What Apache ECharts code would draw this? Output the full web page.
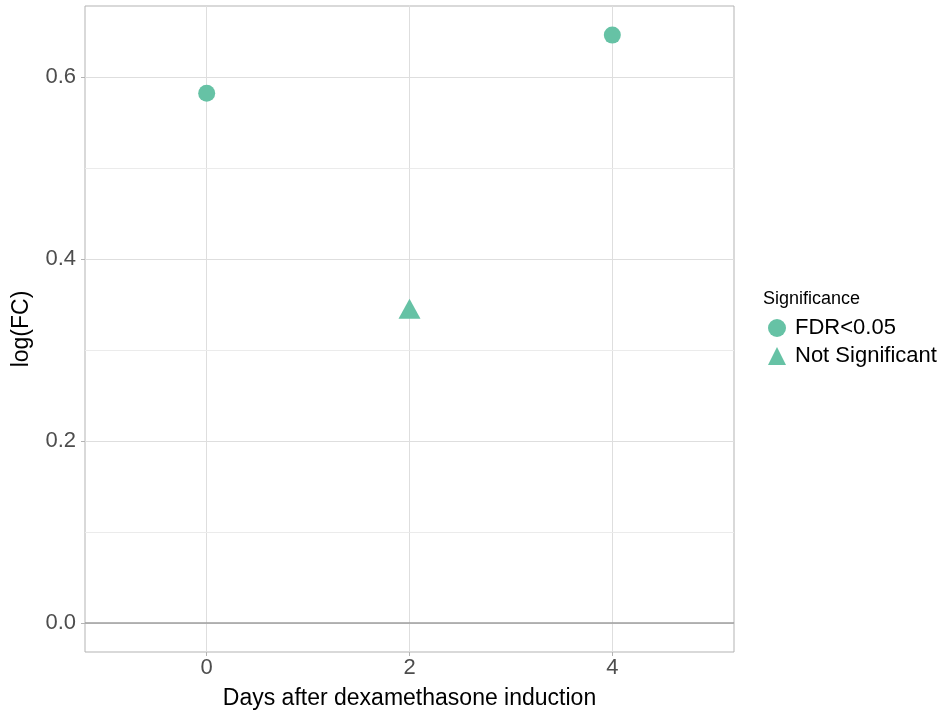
<!DOCTYPE html>
<html><head><meta charset="utf-8">
<script src="https://cdn.jsdelivr.net/npm/echarts@6/dist/echarts.min.js"></script>
<style>html,body{margin:0;padding:0;background:#fff}#c{width:950px;height:711px}</style>
</head><body><div id="c"></div>
<script>
const days = [0, 2, 4];
const logFC = [0.582, 0.342, 0.646];
const significance = ['FDR<0.05', 'Not Significant', 'FDR<0.05'];
const groups = ['FDR<0.05', 'Not Significant'];
const yTicks = [0, 0.2, 0.4, 0.6];
const yMinor = [0.1, 0.3, 0.5];
const xTicks = [0, 2, 4];
const xTitle = 'Days after dexamethasone induction';
const yTitle = 'log(FC)';
const legendTitle = 'Significance';

const color = '#66c2a5';
const font = 'Liberation Sans, Arial, sans-serif';
const chart = echarts.init(document.getElementById('c'), null, {renderer: 'canvas'});

function pts(g) {
  const out = [];
  days.forEach((d, i) => { if (significance[i] === g) out.push([d, logFC[i]]); });
  return out;
}

const series = [
  {
    name: groups[0], type: 'scatter', data: pts(groups[0]),
    symbol: 'circle', symbolSize: 17, itemStyle: {color: color, opacity: 1},
    z: 5,
    markLine: {
      silent: true, symbol: 'none', label: {show: false}, animation: false,
      data: yMinor.map(v => ({yAxis: v, lineStyle: {color: '#ebebeb', width: 1, type: 'solid'}}))
        .concat([{yAxis: 0, lineStyle: {color: '#9e9e9e', width: 1.5, type: 'solid'}}])
    }
  },
  {
    name: groups[1], type: 'scatter', data: pts(groups[1]),
    symbol: 'triangle', symbolSize: [22, 20], symbolOffset: [0, -3],
    itemStyle: {color: color, opacity: 1}, z: 5
  }
];

chart.setOption({
  animation: false,
  title: {
    text: legendTitle, left: 758, top: 285,
    textStyle: {fontFamily: font, fontSize: 18, fontWeight: 'normal', color: '#000'}
  },
  legend: {
    orient: 'vertical', left: 763, top: 312, itemWidth: 18, itemHeight: 18, itemGap: 6,
    data: [{name: groups[0], icon: 'circle'}, {name: groups[1], icon: 'triangle'}],
    textStyle: {fontFamily: font, fontSize: 22, color: '#000', padding: [0, 0, 0, 4]}
  },
  grid: {left: 85, right: 216, top: 6, bottom: 59, show: true, borderColor: '#b3b3b3', borderWidth: 1,
    containLabel: false, outerBoundsMode: 'none'},
  xAxis: {
    type: 'value', min: -1.2, max: 5.2,
    name: xTitle, nameLocation: 'middle', nameGap: 35,
    nameTextStyle: {fontFamily: font, fontSize: 23, color: '#000'},
    axisLine: {show: false, onZero: false},
    axisTick: {show: true, length: 4, customValues: xTicks, lineStyle: {color: '#b3b3b3'}},
    axisLabel: {customValues: xTicks, fontFamily: font, fontSize: 22, color: '#4d4d4d', margin: 5},
    splitLine: {show: true, lineStyle: {color: '#dedede', width: 1}}
  },
  yAxis: {
    type: 'value', min: -0.032, max: 0.678,
    name: yTitle, nameLocation: 'middle', nameGap: 52, nameRotate: 90,
    nameTextStyle: {fontFamily: font, fontSize: 23, color: '#000'},
    axisLine: {show: false, onZero: false},
    axisTick: {show: true, length: 4, customValues: yTicks, lineStyle: {color: '#b3b3b3'}},
    axisLabel: {customValues: yTicks, fontFamily: font, fontSize: 22, color: '#4d4d4d', margin: 9,
      formatter: v => v.toFixed(1)},
    splitLine: {show: true, lineStyle: {color: '#dedede', width: 1}}
  },
  series: series
});
</script></body></html>
